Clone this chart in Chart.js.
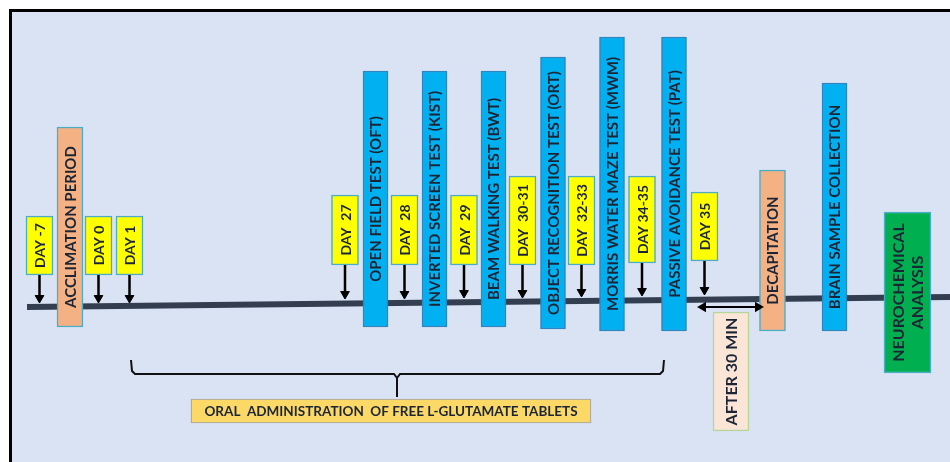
<!DOCTYPE html>
<html>
<head>
<meta charset="utf-8">
<script src="https://cdn.jsdelivr.net/npm/chart.js@4.4.1/dist/chart.umd.min.js"></script>
<style>
  body { margin: 0; background: #fff; }
  #wrap { width: 950px; height: 462px; }
</style>
</head>
<body>
<div id="wrap"><canvas id="timeline"></canvas></div>
<script>
// Gün kutuları (sarı)
const dayLabels = ['DAY -7', 'DAY 0', 'DAY 1', 'DAY  27', 'DAY  28', 'DAY  29', 'DAY  30-31', 'DAY  32-33', 'DAY 34-35', 'DAY 35'];
const dayX = [39.5, 98.5, 129.5, 345, 404.5, 464, 522.5, 581.5, 642, 704.5];
const dayTop = [216, 216, 216, 195, 195, 195, 176, 176, 176, 192];
const dayBottom = [275, 275, 275, 265, 265, 265, 265, 265, 263, 261];
const arrowTip = [303, 303, 303, 299, 299, 298, 298, 297, 296, 295];

// Aşamalar (dikey kutular)
const stepLabels = ['ACCLIMATION PERIOD', 'OPEN FIELD TEST (OFT)', 'INVERTED SCREEN TEST (KIST)', 'BEAM WALKING TEST (BWT)',
  'OBJECT RECOGNITION TEST (ORT)', 'MORRIS WATER MAZE TEST (MWM)', 'PASSIVE AVOIDANCE TEST (PAT)', 'DECAPITATION',
  'BRAIN SAMPLE COLLECTION', 'NEUROCHEMICAL\nANALYSIS'];
const stepKind = ['orange', 'blue', 'blue', 'blue', 'blue', 'blue', 'blue', 'orange', 'blue', 'green'];
const stepX = [70, 375.5, 434.5, 493.5, 553, 612, 674, 772.5, 834.5, 907.5];
const stepTop = [127, 71, 71, 71, 57, 37, 37, 170, 83, 212];
const stepBottom = [327, 327, 327, 327, 329, 331, 331, 331, 331, 373];

// Zaman çizgisi, süre oku, parantez
const lineX = [27, 950];
const lineY = [307, 297];
const waitLabel = 'AFTER 30 MIN';
const waitX = [703, 758];
const waitY = 307;
const waitBox = { x: 731, top: 312, bottom: 431 };
const braceX = [131, 132, 135, 394, 397, 397, 397, 400, 660, 663, 664];
const braceY = [360, 371, 374, 374, 378, 397, 378, 374, 374, 371, 360];
const oralLabel = 'ORAL  ADMINISTRATION  OF FREE L-GLUTAMATE TABLETS';
const oralBox = { y: 411, left: 191, right: 591 };

const textColor = '#1b2536';

function stepDataset(kind, fill, border, thickness) {
  const idx = stepKind.map((k, i) => k === kind ? i : -1).filter(i => i >= 0);
  return {
    type: 'bar',
    data: idx.map(i => ({ x: stepX[i], y: [stepTop[i], stepBottom[i]] })),
    texts: idx.map(i => stepLabels[i]),
    font: kind === 'green' ? '700 16px Lato' : '700 15px Lato',
    lineHeight: 19,
    backgroundColor: fill,
    borderColor: border,
    borderWidth: 1.5,
    borderSkipped: false,
    barThickness: thickness,
    grouped: false,
    order: 3
  };
}

// Arka plan ve çerçeve
const framePlugin = {
  id: 'frame',
  beforeDraw(chart) {
    const c = chart.ctx;
    c.save();
    c.fillStyle = '#ffffff';
    c.fillRect(0, 0, chart.width, chart.height);
    c.fillStyle = '#dae3f3';
    c.fillRect(12, 12, chart.width - 12, chart.height - 12);
    c.fillStyle = '#000000';
    c.fillRect(9, 9, chart.width - 9, 3);
    c.fillRect(9, 9, 3, chart.height - 9);
    c.restore();
  }
};

// Kutuların içine dik yazı
const textPlugin = {
  id: 'boxText',
  afterDatasetsDraw(chart) {
    const c = chart.ctx;
    chart.data.datasets.forEach((ds, i) => {
      if (!ds.texts) return;
      const meta = chart.getDatasetMeta(i);
      meta.data.forEach((el, j) => {
        const lines = ds.texts[j].split('\n');
        const horiz = ds.indexAxis === 'y';
        const cx = horiz ? (el.x + el.base) / 2 : el.x;
        const cy = horiz ? el.y : (el.y + el.base) / 2;
        c.save();
        c.translate(cx, cy);
        if (!horiz) c.rotate(-Math.PI / 2);
        c.font = ds.font;
        c.fillStyle = textColor;
        c.textAlign = 'center';
        c.textBaseline = 'middle';
        const lh = ds.lineHeight || 17;
        lines.forEach((t, k) => {
          c.fillText(t, 0, (k - (lines.length - 1) / 2) * lh + 1);
        });
        c.restore();
      });
    });
  }
};

new Chart(document.getElementById('timeline'), {
  data: {
    datasets: [
      {
        type: 'line',
        data: lineX.map((x, i) => ({ x, y: lineY[i] })),
        borderColor: '#333f50',
        borderWidth: 6,
        pointRadius: 0,
        order: 9
      },
      {
        type: 'line',
        data: braceX.map((x, i) => ({ x, y: braceY[i] })),
        borderColor: '#111111',
        borderWidth: 2,
        pointRadius: 0,
        order: 8
      },
      {
        type: 'line',
        data: dayX.flatMap((x, i) => [{ x, y: dayBottom[i] }, { x, y: arrowTip[i] - 6 }, { x, y: null }]),
        borderColor: '#000000',
        borderWidth: 2.5,
        pointRadius: 0,
        spanGaps: false,
        order: 2
      },
      {
        type: 'scatter',
        data: dayX.map((x, i) => ({ x, y: arrowTip[i] - 5 })),
        pointStyle: 'triangle',
        rotation: 180,
        pointRadius: 5,
        backgroundColor: '#000000',
        borderColor: '#000000',
        borderWidth: 1,
        order: 1
      },
      {
        type: 'line',
        data: waitX.map(x => ({ x, y: waitY })),
        borderColor: '#000000',
        borderWidth: 2,
        pointStyle: 'triangle',
        pointRotation: [270, 90],
        pointRadius: 4,
        backgroundColor: '#000000',
        order: 1
      },
      {
        type: 'bar',
        data: dayX.map((x, i) => ({ x, y: [dayTop[i], dayBottom[i]] })),
        texts: dayLabels,
        font: '700 14px Lato',
        backgroundColor: '#ffff00',
        borderColor: '#4bacc6',
        borderWidth: 1.5,
        borderSkipped: false,
        barThickness: 27,
        grouped: false,
        order: 3
      },
      stepDataset('orange', '#f4b183', '#4bacc6', 26),
      stepDataset('blue', '#00b0f0', '#2e86c1', 25),
      stepDataset('green', '#00b050', '#4bacc6', 47),
      {
        type: 'bar',
        data: [{ x: waitBox.x, y: [waitBox.top, waitBox.bottom] }],
        texts: [waitLabel],
        font: '700 16px Lato',
        backgroundColor: '#fbe5d6',
        borderColor: '#b5d59a',
        borderWidth: 1.5,
        borderSkipped: false,
        barThickness: 36,
        grouped: false,
        order: 3
      },
      {
        type: 'bar',
        indexAxis: 'y',
        data: [{ y: oralBox.y, x: [oralBox.left, oralBox.right] }],
        texts: [oralLabel],
        font: '700 13.5px Lato',
        backgroundColor: '#fcd866',
        borderColor: '#a5a5a5',
        borderWidth: 1.2,
        borderSkipped: false,
        barThickness: 24,
        grouped: false,
        order: 3
      }
    ]
  },
  options: {
    responsive: true,
    maintainAspectRatio: false,
    animation: false,
    events: [],
    layout: { padding: 0, autoPadding: false },
    plugins: { legend: { display: false }, tooltip: { enabled: false } },
    scales: {
      x: { type: 'linear', min: 0, max: 950, offset: false, display: false },
      y: { type: 'linear', min: 0, max: 462, offset: false, reverse: true, display: false }
    }
  },
  plugins: [framePlugin, textPlugin]
});
</script>
</body>
</html>
